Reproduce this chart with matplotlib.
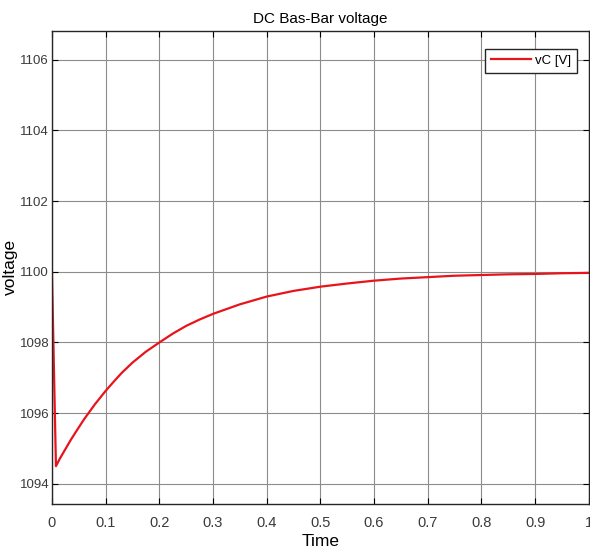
import matplotlib
matplotlib.use('Agg')
from matplotlib import pyplot as plt

# values
t = [0, 0.0075, 0.015, 0.025, 0.035, 0.045, 0.06, 0.07, 0.08, 0.09, 0.1,
     0.115, 0.13, 0.15, 0.175, 0.2, 0.225, 0.25, 0.275, 0.3, 0.35, 0.4, 0.45,
     0.5, 0.55, 0.6, 0.65, 0.7, 0.75, 0.8, 0.85, 0.9, 0.95, 1.0]
vc = [1100.0, 1094.5, 1094.72, 1094.98, 1095.24, 1095.48, 1095.83, 1096.04,
      1096.25, 1096.44, 1096.63, 1096.89, 1097.14, 1097.43, 1097.74, 1098.0,
      1098.25, 1098.47, 1098.65, 1098.81, 1099.08, 1099.30, 1099.46, 1099.58,
      1099.67, 1099.75, 1099.81, 1099.85, 1099.89, 1099.91, 1099.93, 1099.94,
      1099.96, 1099.97]
xticks = [0, 0.1, 0.2, 0.3, 0.4, 0.5, 0.6, 0.7, 0.8, 0.9, 1]
xticklabels = ['0', '0.1', '0.2', '0.3', '0.4', '0.5', '0.6', '0.7', '0.8', '0.9', '1']
yticks = [1094, 1096, 1098, 1100, 1102, 1104, 1106]

plt.rcParams['font.family'] = ['Liberation Sans Narrow', 'Liberation Sans', 'DejaVu Sans']

fig = plt.figure(figsize=(5.9, 5.54), dpi=100)
ax = fig.add_axes([0.088, 0.0903, 0.910, 0.854])

ax.plot(t, vc, color='#e8141c', linewidth=1.6, label='vC [V]')

ax.set_xlim(0, 1)
ax.set_ylim(1093.43, 1106.82)
ax.set_xticks(xticks)
ax.set_xticklabels(xticklabels)
ax.set_yticks(yticks)
ax.grid(True, color='#8c8c8c', linewidth=0.8)
ax.tick_params(direction='in', top=True, right=True, length=4,
               labelsize=9.5, labelcolor='#3a3a3a')
ax.tick_params(axis='x', pad=9, labelsize=10.5)
ax.tick_params(axis='y', pad=2)
for s in ax.spines.values():
    s.set_color('#262626')
    s.set_linewidth(1.0)

ax.set_title('DC Bas-Bar voltage', fontsize=11, pad=6)
ax.set_xlabel('Time', fontsize=12.5)
ax.set_ylabel('voltage', fontsize=12.5)
ax.xaxis.set_label_coords(0.5, -0.064)
ax.yaxis.set_label_coords(-0.063, 0.5)

ax.legend(loc='upper right', bbox_to_anchor=(0.978, 0.962), borderaxespad=0,
          fontsize=9.5, frameon=True, fancybox=False, edgecolor='#262626',
          framealpha=1, handlelength=3.0, handletextpad=0.3, borderpad=0.45)

fig.savefig('out.png', dpi=100)
